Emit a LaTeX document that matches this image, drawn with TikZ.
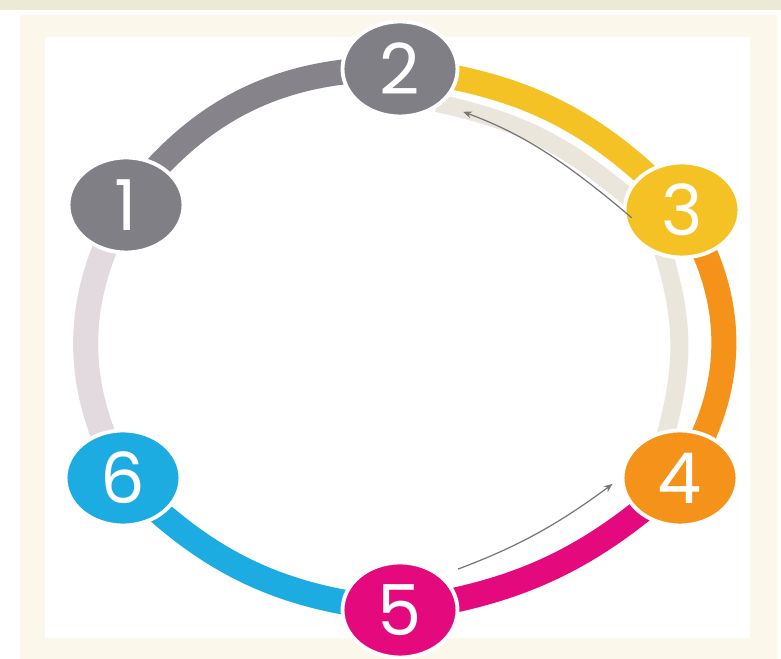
\documentclass[tikz,border=0pt]{standalone}
\usepackage{fontspec}
\usepackage{tikz}
\usetikzlibrary{arrows.meta, shapes.geometric, backgrounds}
\newfontfamily\digitfont{Poppins}
\definecolor{StepGray}{RGB}{128,127,133}
\definecolor{ArcGray}{RGB}{134,132,138}
\definecolor{StepYellow}{RGB}{244,194,36}
\definecolor{StepOrange}{RGB}{245,146,26}
\definecolor{StepMagenta}{RGB}{228,10,126}
\definecolor{StepBlue}{RGB}{28,172,226}
\definecolor{ArcPale}{RGB}{226,218,222}
\definecolor{GhostBand}{RGB}{234,230,220}
\definecolor{FrameBeige}{RGB}{251,247,234}
\definecolor{StripBeige}{RGB}{236,233,214}
\definecolor{ThinLine}{RGB}{120,118,118}

\begin{document}
\begin{tikzpicture}[
    x=0.02cm, y=0.02cm,
    stepdot/.style={
      ellipse,
      fill=#1,
      draw=white,
      line width=2.2pt,
      minimum width=2.3cm,
      minimum height=1.9cm,
      inner sep=0pt,
      text=white,
      font=\digitfont\fontsize{40}{40}\selectfont
    },
    band/.style={draw=#1, line width=0.5cm},
    ghost/.style={draw=GhostBand, line width=0.36cm, shorten <=-0.1cm, shorten >=-0.2cm},
    thinarrow/.style={draw=ThinLine, line width=0.7pt, -{Stealth[length=5pt, width=4pt]}}
  ]
  \useasboundingbox (0,0) rectangle (781,659);

  \node[stepdot=StepGray] (n1) at (126,454) {1};
  \node[stepdot=StepGray] (n2) at (400,590) {2};
  \node[stepdot=StepYellow] (n3) at (682,449) {3};
  \node[stepdot=StepOrange] (n4) at (680,181) {4};
  \node[stepdot=StepMagenta] (n5) at (400,49) {5};
  \node[stepdot=StepBlue] (n6) at (123,181) {6};

  \begin{scope}[on background layer]
    \fill[StripBeige] (0,649) rectangle (781,659);
    \fill[FrameBeige] (20,0) rectangle (777,644);
    \fill[white] (45,21) rectangle (750,622);

    \draw[ghost] (n2.-40) to[bend left=14] (n3.165);
    \draw[ghost] (n3.-110) to[bend left=16] (n4.105);

    \draw[band=ArcGray] (n1.center) to[bend left=27] (n2.center);
    \draw[band=StepYellow] (n2.center) to[bend left=20] (n3.center);
    \draw[band=StepOrange] (n3.center) to[bend left=33] (n4.center);
    \draw[band=StepMagenta] (n4.center) to[bend left=17] (n5.center);
    \draw[band=StepBlue] (n5.center) to[bend left=20] (n6.center);
    \draw[band=ArcPale] (n6.center) to[bend left=29] (n1.center);
  \end{scope}

  \draw[thinarrow, shorten <=-0.24cm, shorten >=0.45cm] (n3.west) to[bend right=10] (n2.south east);
  \draw[thinarrow, shorten <=0.34cm, shorten >=0.2cm] (n5.north east) to[bend right=8] (n4.west);
\end{tikzpicture}
\end{document}
